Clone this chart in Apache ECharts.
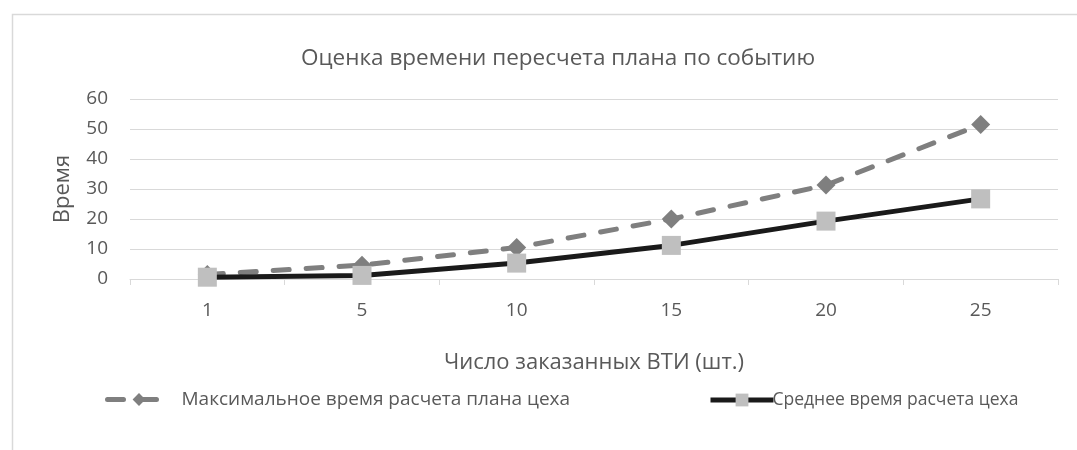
<!DOCTYPE html>
<html><head><meta charset="utf-8">
<script src="https://cdn.jsdelivr.net/npm/echarts@6/dist/echarts.min.js"></script>
<style>html,body{margin:0;padding:0;background:#fff}#c{width:1077px;height:450px}</style>
</head><body><div id="c"></div>
<script>
const categories = ['1', '5', '10', '15', '20', '25'];
const maxTime = [1.5, 4.6, 10.5, 20, 31.3, 51.5];
const avgTime = [0.6, 1.2, 5.3, 11.2, 19.3, 26.7];
const seriesNames = ['Максимальное время расчета плана цеха', 'Среднее время расчета цеха'];
const titleText = 'Оценка времени пересчета плана по событию';
const xName = 'Число заказанных ВТИ (шт.)';
const yName = 'Время';

const FONT = '"Open Sans", "Noto Sans", sans-serif';
const GREY = '#595959';
const maxLine = {color: '#7f7f7f', width: 5, type: [16, 17], cap: 'round'};
const avgLine = {color: '#1a1a1a', width: 5};
const chart = echarts.init(document.getElementById('c'), null, {renderer: 'canvas'});
chart.setOption({
  animation: false,
  backgroundColor: '#fff',
  graphic: [{
    type: 'rect', left: 10, top: 12, z: -1,
    shape: {width: 1200, height: 600},
    style: {fill: 'none', stroke: '#d9d9d9', lineWidth: 1.5}
  }],
  title: {
    text: titleText, left: 296, top: 42,
    textStyle: {fontFamily: FONT, fontSize: 22.5, fontWeight: 'normal', color: GREY}
  },
  grid: {left: 130, right: 19, top: 99, bottom: 171, containLabel: false},
  xAxis: {
    type: 'category', data: categories, boundaryGap: true,
    name: xName, nameLocation: 'middle', nameGap: 73,
    nameTextStyle: {fontFamily: FONT, fontSize: 22, color: GREY},
    axisLine: {lineStyle: {color: '#d9d9d9', width: 1}},
    axisTick: {show: true, length: 6, lineStyle: {color: '#d9d9d9'}},
    axisLabel: {fontFamily: FONT, fontSize: 19, color: GREY, margin: 22}
  },
  yAxis: {
    type: 'value', min: 0, max: 60, interval: 10,
    name: yName, nameLocation: 'middle', nameGap: 56,
    nameTextStyle: {fontFamily: FONT, fontSize: 22, color: GREY},
    axisLine: {show: false}, axisTick: {show: false},
    splitLine: {lineStyle: {color: '#d9d9d9', width: 1}},
    axisLabel: {fontFamily: FONT, fontSize: 19, color: GREY, margin: 22}
  },
  legend: [{
    left: 100, top: 385, itemWidth: 63, itemHeight: 16,
    textStyle: {fontFamily: FONT, fontSize: 19, color: GREY, padding: [0, 0, 0, 6]},
    data: [{name: seriesNames[0], lineStyle: maxLine}]
  }, {
    left: 703, top: 386, itemWidth: 63, itemHeight: 16,
    textStyle: {fontFamily: FONT, fontSize: 17.5, color: GREY, padding: [0, 0, 0, -6]},
    data: [{name: seriesNames[1], lineStyle: avgLine}]
  }],
  series: [{
    name: seriesNames[0], type: 'line', data: maxTime,
    symbol: 'diamond', symbolSize: [19, 19],
    lineStyle: maxLine,
    itemStyle: {color: '#7f7f7f'}
  }, {
    name: seriesNames[1], type: 'line', data: avgTime,
    symbol: 'rect', symbolSize: 19,
    lineStyle: avgLine,
    itemStyle: {color: '#bfbfbf'}
  }]
});
</script></body></html>
